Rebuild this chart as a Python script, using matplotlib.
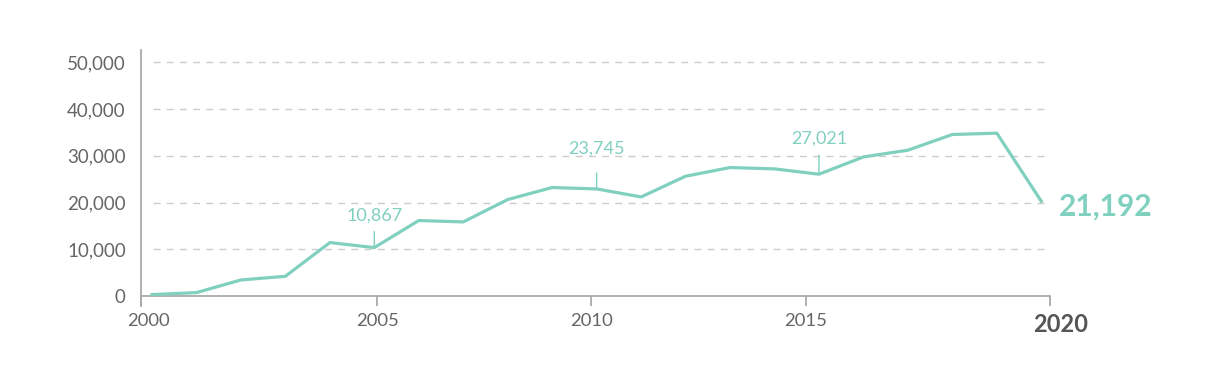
import matplotlib
matplotlib.use("Agg")
import matplotlib.pyplot as plt
import matplotlib.transforms as mtransforms

plt.rcParams['font.family'] = ['Lato', 'DejaVu Sans']

# data
years = list(range(2000, 2021))
values = [300, 730, 3430, 4220, 11430, 10360, 16150, 15850, 20640, 23210,
          22910, 21200, 25630, 27490, 27200, 26060, 29760, 31200, 34560,
          34840, 20280]

callout_years = [2005, 2010, 2015]
callout_text = ["10,867", "23,745", "27,021"]
end_text = "21,192"

xtick_labels = ["2000", "2005", "2010", "2015", "2020"]
ytick_values = [0, 10000, 20000, 30000, 40000, 50000]

# layout
xtick_pos = [1999.753, 2005.07, 2009.88, 2014.70, 2020.196]
callout_tick_px = [16, 16, 19]
callout_text_px = [27, 35, 31]

teal = "#80d0c0"
grey = "#aaaaaa"

fig = plt.figure(figsize=(12.15, 3.73), dpi=100)
ax = fig.add_axes([141 / 1215, 77 / 373, 909 / 1215, 246 / 373])

for v in ytick_values[1:]:
    ax.axhline(v, xmin=0.013, xmax=1, color="#cccccc", lw=1,
               dashes=(5, 4.5), zorder=1)

ax.plot(years, values, color=teal, lw=2.3, solid_joinstyle="round", zorder=3)

px = 72 / 100
for yr, txt, tl, tp in zip(callout_years, callout_text, callout_tick_px, callout_text_px):
    v = values[years.index(yr)]
    ax.annotate("", xy=(yr, v), xytext=(0, tl * px), textcoords="offset points",
                arrowprops=dict(arrowstyle="-", color=teal, lw=1,
                                shrinkA=0, shrinkB=0))
    ax.annotate(txt, xy=(yr, v), xytext=(0, tp * px), textcoords="offset points",
                ha="center", va="baseline", fontsize=13, color=teal)

ax.annotate(end_text, xy=(years[-1], values[-1]), xytext=(18 * px, -5 * px),
            textcoords="offset points", ha="left", va="center",
            fontsize=21.5, fontweight="bold", color=teal, annotation_clip=False)

ax.set_xlim(1999.753, 2020.196)
ax.set_ylim(0, 52640)

for s in ["top", "right"]:
    ax.spines[s].set_visible(False)
for s in ["left", "bottom"]:
    ax.spines[s].set_color(grey)
    ax.spines[s].set_linewidth(1.3)
ax.spines["left"].set_bounds(-10 * 52640 / 246, 52640)

ax.set_xticks(xtick_pos)
ax.set_xticklabels(xtick_labels)
ax.tick_params(axis="x", length=7, width=1.3, color=grey, pad=5,
               labelsize=13.3, labelcolor="#666666")

ax.set_yticks(ytick_values)
ax.set_yticklabels([f"{v:,}" for v in ytick_values])
ax.tick_params(axis="y", length=0, pad=11, labelsize=13.5, labelcolor="#666666")
ax.set_yticks([0], minor=True)
ax.tick_params(axis="y", which="minor", length=6, width=1.3, color=grey)

labels = ax.get_xticklabels()
labels[0].set_transform(labels[0].get_transform() +
                        mtransforms.ScaledTranslation(7 / 100, 0, fig.dpi_scale_trans))
last = labels[-1]
last.set_fontweight("bold")
last.set_fontsize(17)
last.set_color("#555555")
last.set_transform(last.get_transform() +
                   mtransforms.ScaledTranslation(11 / 100, 0, fig.dpi_scale_trans))

fig.savefig("out.png", dpi=100)
